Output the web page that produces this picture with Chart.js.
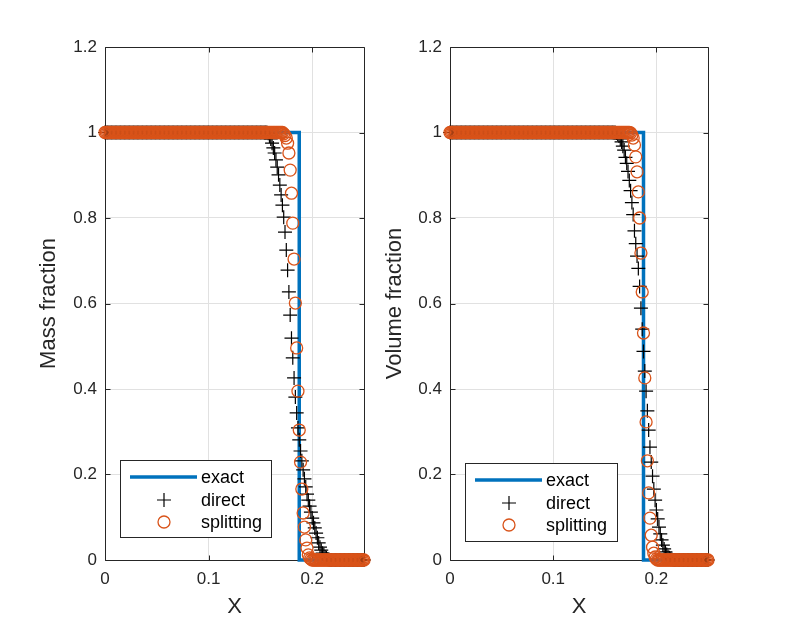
<!DOCTYPE html>
<html>
<head>
<meta charset="utf-8">
<script src="https://cdn.jsdelivr.net/npm/chart.js@4/dist/chart.umd.min.js"></script>
<style>
  html, body { margin: 0; padding: 0; background: #ffffff; }
  body { width: 786px; height: 630px; position: relative; overflow: hidden; }
  canvas { position: absolute; top: 0; }
  #c1 { left: 0px; }
  #c2 { left: 370px; }
</style>
</head>
<body>
<canvas id="c1" width="393" height="630"></canvas>
<canvas id="c2" width="416" height="630"></canvas>
<script>
// ---------------- DATA ----------------
const xValues = [
  0,0.00125,0.0025,0.00375,0.005,0.00625,0.0075,0.00875,
  0.01,0.01125,0.0125,0.01375,0.015,0.01625,0.0175,0.01875,
  0.02,0.02125,0.0225,0.02375,0.025,0.02625,0.0275,0.02875,
  0.03,0.03125,0.0325,0.03375,0.035,0.03625,0.0375,0.03875,
  0.04,0.04125,0.0425,0.04375,0.045,0.04625,0.0475,0.04875,
  0.05,0.05125,0.0525,0.05375,0.055,0.05625,0.0575,0.05875,
  0.06,0.06125,0.0625,0.06375,0.065,0.06625,0.0675,0.06875,
  0.07,0.07125,0.0725,0.07375,0.075,0.07625,0.0775,0.07875,
  0.08,0.08125,0.0825,0.08375,0.085,0.08625,0.0875,0.08875,
  0.09,0.09125,0.0925,0.09375,0.095,0.09625,0.0975,0.09875,
  0.1,0.10125,0.1025,0.10375,0.105,0.10625,0.1075,0.10875,
  0.11,0.11125,0.1125,0.11375,0.115,0.11625,0.1175,0.11875,
  0.12,0.12125,0.1225,0.12375,0.125,0.12625,0.1275,0.12875,
  0.13,0.13125,0.1325,0.13375,0.135,0.13625,0.1375,0.13875,
  0.14,0.14125,0.1425,0.14375,0.145,0.14625,0.1475,0.14875,
  0.15,0.15125,0.1525,0.15375,0.155,0.15625,0.1575,0.15875,
  0.16,0.16125,0.1625,0.16375,0.165,0.16625,0.1675,0.16875,
  0.17,0.17125,0.1725,0.17375,0.175,0.17625,0.1775,0.17875,
  0.18,0.18125,0.1825,0.18375,0.185,0.18625,0.1875,0.18875,
  0.19,0.19125,0.1925,0.19375,0.195,0.19625,0.1975,0.19875,
  0.2,0.20125,0.2025,0.20375,0.205,0.20625,0.2075,0.20875,
  0.21,0.21125,0.2125,0.21375,0.215,0.21625,0.2175,0.21875,
  0.22,0.22125,0.2225,0.22375,0.225,0.22625,0.2275,0.22875,
  0.23,0.23125,0.2325,0.23375,0.235,0.23625,0.2375,0.23875,
  0.24,0.24125,0.2425,0.24375,0.245,0.24625,0.2475,0.24875,
  0.25
];

// exact solution (step)
const exactX = [0, 0.1875, 0.1875, 0.25];
const exactY = [1, 1, 0, 0];

// Mass fraction (left panel)
const massDirect = [
  1,1,1,1,1,1,1,1,1,1,1,1,1,1,1,1,1,1,1,1,1,1,1,1,1,1,1,1,1,1,1,1,1,1,1,1,1,1,1,1,
  1,1,1,1,1,1,1,1,1,1,1,1,1,1,1,1,1,1,1,1,1,1,1,1,1,1,1,1,1,1,1,1,1,1,1,1,1,1,1,1,
  1,1,1,1,1,1,1,1,1,1,1,1,1,1,1,1,1,1,1,1,1,1,1,1,1,1,1,1,1,1,1,1,1,1,1,1,1,1,1,1,
  1,1,1,1,1,1,0.998,0.992,
  0.985,0.975,0.964,0.952,0.936,0.919,0.901,0.877,
  0.854,0.830,0.802,0.767,0.725,0.678,0.627,0.573,
  0.519,0.473,0.426,0.381,0.344,0.309,0.281,0.255,
  0.232,0.211,0.190,0.171,0.154,0.140,0.126,0.112,
  0.098,0.087,0.075,0.063,0.052,0.040,0.030,0.023,
  0.016,0.012,0.007,0.005,0.002,0,0,0,
  0,0,0,0,0,0,0,0,0,0, 0,0,0,0,0,0,0,0,0,0, 0,0,0,0,0
];
const massSplitting = [
  1,1,1,1,1,1,1,1,1,1,1,1,1,1,1,1,1,1,1,1,1,1,1,1,1,1,1,1,1,1,1,1,1,1,1,1,1,1,1,1,
  1,1,1,1,1,1,1,1,1,1,1,1,1,1,1,1,1,1,1,1,1,1,1,1,1,1,1,1,1,1,1,1,1,1,1,1,1,1,1,1,
  1,1,1,1,1,1,1,1,1,1,1,1,1,1,1,1,1,1,1,1,1,1,1,1,1,1,1,1,1,1,1,1,1,1,1,1,1,1,1,1,
  1,1,1,1,1,1,1,1,
  1,1,1,1,1,1,1,1,
  1,1,0.997,0.993,0.987,0.975,0.952,0.912,
  0.858,0.788,0.704,0.601,0.496,0.395,0.304,0.229,
  0.166,0.110,0.077,0.047,0.028,0.012,0.005,0.002,
  0,0,0,0,0,0,0,0,0,0, 0,0,0,0,0,0,0,0,0,0, 0,0,0,0,0,0,0,0,0,0, 0,0,0,0,0,0,0,0,0,0, 0
];

// Volume fraction (right panel)
const volumeDirect = [
  1,1,1,1,1,1,1,1,1,1,1,1,1,1,1,1,1,1,1,1,1,1,1,1,1,1,1,1,1,1,1,1,1,1,1,1,1,1,1,1,
  1,1,1,1,1,1,1,1,1,1,1,1,1,1,1,1,1,1,1,1,1,1,1,1,1,1,1,1,1,1,1,1,1,1,1,1,1,1,1,1,
  1,1,1,1,1,1,1,1,1,1,1,1,1,1,1,1,1,1,1,1,1,1,1,1,1,1,1,1,1,1,1,1,1,1,1,1,1,1,1,1,
  1,1,1,1,1,1,1,1,
  1,0.999,0.996,0.992,0.985,0.978,0.968,0.959,
  0.942,0.928,0.909,0.888,0.864,0.836,0.808,0.770,
  0.740,0.711,0.682,0.640,0.589,0.540,0.488,0.442,
  0.395,0.349,0.304,0.264,0.229,0.196,0.166,0.140,
  0.117,0.096,0.077,0.061,0.047,0.035,0.026,0.019,
  0.013,0.008,0.005,0.002,0.001,0,0,0,
  0,0,0,0,0,0,0,0,0,0, 0,0,0,0,0,0,0,0,0,0, 0,0,0,0,0
];
const volumeSplitting = [
  1,1,1,1,1,1,1,1,1,1,1,1,1,1,1,1,1,1,1,1,1,1,1,1,1,1,1,1,1,1,1,1,1,1,1,1,1,1,1,1,
  1,1,1,1,1,1,1,1,1,1,1,1,1,1,1,1,1,1,1,1,1,1,1,1,1,1,1,1,1,1,1,1,1,1,1,1,1,1,1,1,
  1,1,1,1,1,1,1,1,1,1,1,1,1,1,1,1,1,1,1,1,1,1,1,1,1,1,1,1,1,1,1,1,1,1,1,1,1,1,1,1,
  1,1,1,1,1,1,1,1,
  1,1,1,1,1,1,1,1,
  1,1,1,1,0.999,0.994,0.987,0.971,
  0.943,0.908,0.861,0.800,0.718,0.627,0.531,0.426,
  0.323,0.232,0.157,0.098,0.058,0.030,0.016,0.007,
  0.002,0,0,0,0,0,0,0,
  0,0,0,0,0,0,0,0,0,0, 0,0,0,0,0,0,0,0,0,0, 0,0,0,0,0,0,0,0,0,0, 0,0,0
];

const xTickValues = [0, 0.1, 0.2];
const xTickLabels = ['0', '0.1', '0.2'];
const yTickValues = [0, 0.2, 0.4, 0.6, 0.8, 1, 1.2];
const yTickLabels = ['0', '0.2', '0.4', '0.6', '0.8', '1', '1.2'];
const seriesLabels = ['exact', 'direct', 'splitting'];
const xAxisTitle = 'X';
const yAxisTitles = ['Mass fraction', 'Volume fraction'];

// ---------------- STYLE ----------------
const FONT = '"Liberation Sans", Arial, Helvetica, sans-serif';
const AXIS_COLOR = '#262626';
const GRID_COLOR = '#e1e1e1';
const BLUE = '#0072BD';
const ORANGE = '#D95319';

function pts(xs, ys) { return xs.map((x, i) => ({ x: x, y: ys[i] })); }

const boxPlugin = {
  id: 'matlabBox',
  beforeDatasetsDraw(chart) {
    const { ctx, chartArea: a, scales: { x, y } } = chart;
    const L = Math.round(a.left) + 0.5, R = Math.round(a.right) + 0.5;
    const T = Math.round(a.top) + 0.5, B = Math.round(a.bottom) + 0.5;
    const tl = 5;
    ctx.save();
    ctx.strokeStyle = AXIS_COLOR;
    ctx.lineWidth = 1;
    ctx.beginPath();
    ctx.rect(L, T, R - L, B - T);
    x.ticks.forEach(t => {
      const p = Math.round(x.getPixelForValue(t.value)) + 0.5;
      ctx.moveTo(p, B); ctx.lineTo(p, B - tl);
      ctx.moveTo(p, T); ctx.lineTo(p, T + tl);
    });
    y.ticks.forEach(t => {
      const p = Math.round(y.getPixelForValue(t.value)) + 0.5;
      ctx.moveTo(L, p); ctx.lineTo(L + tl, p);
      ctx.moveTo(R, p); ctx.lineTo(R - tl, p);
    });
    ctx.stroke();
    ctx.restore();
  }
};

const legendPlugin = {
  id: 'matlabLegend',
  afterDraw(chart, args, opts) {
    const { ctx, chartArea: a } = chart;
    const left = a.left + opts.dx, top = a.top + opts.dy;
    const w = opts.w, h = opts.h;
    ctx.save();
    ctx.fillStyle = '#ffffff';
    ctx.fillRect(left, top, w, h);
    ctx.strokeStyle = AXIS_COLOR;
    ctx.lineWidth = 1;
    ctx.strokeRect(Math.round(left) + 0.5, Math.round(top) + 0.5, w, h);
    const rows = [17, 40, 62];
    const ds = chart.data.datasets;
    ds.forEach((d, i) => {
      const yy = top + rows[i];
      const cx = left + 44;
      if (d.showLine) {
        ctx.strokeStyle = d.borderColor; ctx.lineWidth = d.borderWidth;
        ctx.beginPath(); ctx.moveTo(left + 10, yy); ctx.lineTo(left + 77, yy); ctx.stroke();
      } else if (d.pointStyle === 'cross') {
        ctx.strokeStyle = d.borderColor; ctx.lineWidth = d.borderWidth;
        ctx.beginPath();
        ctx.moveTo(cx - 7, yy); ctx.lineTo(cx + 7, yy);
        ctx.moveTo(cx, yy - 7); ctx.lineTo(cx, yy + 7);
        ctx.stroke();
      } else {
        ctx.strokeStyle = d.borderColor; ctx.lineWidth = d.borderWidth;
        ctx.beginPath(); ctx.arc(cx, yy, 6, 0, Math.PI * 2); ctx.stroke();
      }
      ctx.fillStyle = '#000000';
      ctx.font = '18px ' + FONT;
      ctx.textBaseline = 'middle';
      ctx.textAlign = 'left';
      ctx.fillText(d.label, left + 81, yy + 1);
    });
    ctx.restore();
  }
};

function makeChart(id, directVals, splitVals, yTitle, geom) {
  const ctx = document.getElementById(id).getContext('2d');
  return new Chart(ctx, {
    type: 'scatter',
    data: {
      datasets: [
        { label: seriesLabels[0], data: pts(exactX, exactY), showLine: true, borderColor: BLUE,
          backgroundColor: BLUE, borderWidth: 3.5, pointRadius: 0, borderJoinStyle: 'miter',
          order: 3, clip: false },
        { label: seriesLabels[1], data: pts(xValues, directVals), showLine: false, pointStyle: 'cross',
          pointRadius: 7, borderColor: '#000000', backgroundColor: 'rgba(0,0,0,0)', borderWidth: 1.2,
          order: 2, clip: false },
        { label: seriesLabels[2], data: pts(xValues, splitVals), showLine: false, pointStyle: 'circle',
          pointRadius: 6, borderColor: ORANGE, backgroundColor: 'rgba(0,0,0,0)', borderWidth: 1.3,
          order: 1, clip: false }
      ]
    },
    options: {
      responsive: false, animation: false, devicePixelRatio: 1,
      events: [],
      layout: { padding: { left: 0, right: geom.padRight, top: 47, bottom: 0 } },
      plugins: {
        legend: { display: false }, tooltip: { enabled: false },
        matlabLegend: geom.legend
      },
      scales: {
        x: {
          type: 'linear', min: 0, max: 0.25,
          afterBuildTicks: s => { s.ticks = xTickValues.map(v => ({ value: v })); },
          afterFit: s => { s.height = 70; },
          ticks: { callback: (v, i) => xTickLabels[i], color: AXIS_COLOR, padding: 9,
                   font: { family: FONT, size: 17 }, maxRotation: 0, autoSkip: false },
          grid: { color: GRID_COLOR, drawTicks: false, lineWidth: 1 },
          border: { display: false },
          title: { display: true, text: xAxisTitle, color: AXIS_COLOR,
                   font: { family: FONT, size: 22 }, padding: { top: 0, bottom: 10 } }
        },
        y: {
          type: 'linear', min: 0, max: 1.2,
          afterBuildTicks: s => { s.ticks = yTickValues.map(v => ({ value: v })); },
          afterFit: s => { s.width = geom.yWidth; },
          ticks: { callback: (v, i) => yTickLabels[i], color: AXIS_COLOR, padding: 8,
                   font: { family: FONT, size: 17 }, autoSkip: false },
          grid: { color: GRID_COLOR, drawTicks: false, lineWidth: 1 },
          border: { display: false },
          title: { display: true, text: yTitle, color: AXIS_COLOR,
                   font: { family: FONT, size: 22 }, padding: { top: geom.titlePad, bottom: 0 } }
        }
      }
    },
    plugins: [boxPlugin, legendPlugin]
  });
}

makeChart('c1', massDirect, massSplitting, yAxisTitles[0],
  { padRight: 29, yWidth: 105, titlePad: 36, legend: { dx: 15, dy: 413, w: 151, h: 77 } });
makeChart('c2', volumeDirect, volumeSplitting, yAxisTitles[1],
  { padRight: 78, yWidth: 80, titlePad: 12, legend: { dx: 15, dy: 416, w: 152, h: 78 } });
</script>
</body>
</html>
